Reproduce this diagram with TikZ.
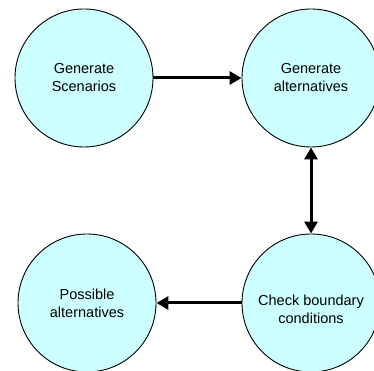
\documentclass[tikz,border=0pt]{standalone}
\usepackage{fontspec}
\setmainfont{Liberation Sans}
\usetikzlibrary{arrows.meta}

\tikzset{
    stage/.style={circle, draw=black, line width=0.9pt, fill=stagefill,
        minimum size=138pt, inner sep=0pt, align=center,
        font=\fontsize{14.5pt}{18pt}\selectfont},
    flow/.style={line width=3pt, -{Triangle[length=12pt,width=13pt]}},
    twoway/.style={line width=3pt, {Triangle[length=12pt,width=13pt]}-{Triangle[length=12pt,width=13pt]}}
}
\definecolor{stagefill}{RGB}{204,255,255}

\begin{document}
\begin{tikzpicture}[x=1pt, y=1pt]
    % Page frame
    \useasboundingbox (0,0) rectangle (374,371);
    \clip (0,0) rectangle (374,371);

    % Stages
    \node[stage] (scen) at (84,293) {Generate\\Scenarios};
    \node[stage] (alt) at (311,293) {Generate\\alternatives};
    \node[stage] (check) at (311,68) {\raisebox{-12pt}[0pt][0pt]{\begin{tabular}{@{}c@{}}Check boundary\\conditions\end{tabular}}};
    \node[stage] (poss) at (87,68) {Possible\\alternatives};

    % Arrows between stages
    \draw[flow] (scen.east) -- (alt.west);
    \draw[twoway] (alt.south) -- (alt.south |- check.north);
    \draw[flow] (check.west) -- (poss.east);
\end{tikzpicture}
\end{document}
